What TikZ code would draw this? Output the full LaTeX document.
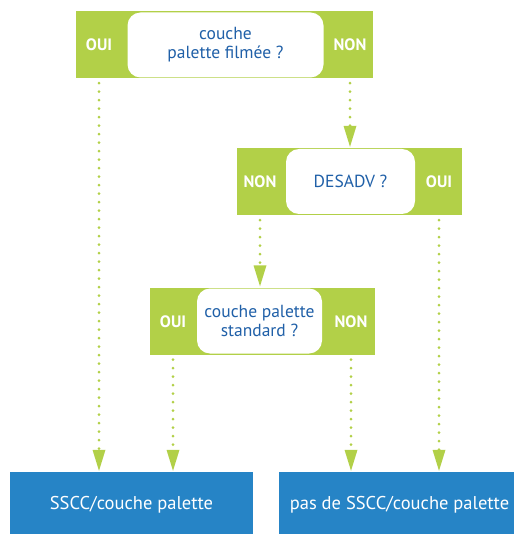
\documentclass[tikz,border=0pt]{standalone}
\usepackage{fontspec}
\setmainfont{PT Sans}
\usetikzlibrary{arrows.meta}
\definecolor{vert}{RGB}{178,208,72}
\definecolor{bleutexte}{RGB}{32,96,168}
\definecolor{bleubox}{RGB}{38,132,198}
\tikzset{
	cadre/.style={fill=vert, minimum height=67pt, inner sep=0pt},
	question/.style={fill=white, rounded corners=13pt, minimum height=65pt, inner sep=0pt,
			text=bleutexte, align=center, font=\fontsize{17.5}{19}\selectfont},
	reponse/.style={text=white, font=\fontsize{16.5}{18}\selectfont\bfseries},
	resultat/.style={fill=bleubox, text=white, minimum height=66pt, inner sep=0pt,
			font=\fontsize{18.5}{20}\selectfont},
	fleche/.style={draw=vert, line width=3pt, line cap=round, dash pattern=on 0pt off 8.5pt,
			-{Triangle[width=13pt, length=21pt, fill=vert, line width=0pt]}, shorten >=1pt}
}
\begin{document}
	\begin{tikzpicture}[x=1pt, y=-1pt]
		\useasboundingbox (0,0) rectangle (513,534);
		% premiere question
		\node[cadre, minimum width=297pt] (c1) at (224.5,44.5) {};
		\node[question, minimum width=196pt] (q1) at (225.5,45) {couche\\palette filmée ?};
		\node[reponse] (oui1) at (99,45) {OUI};
		\node[reponse] (non1) at (350,45) {NON};
		% deuxieme question
		\node[cadre, minimum width=225pt] (c2) at (349.5,181.5) {};
		\node[question, minimum width=129pt] (q2) at (350.5,181.5) {DESADV ?};
		\node[reponse] (non2) at (260,182) {NON};
		\node[reponse] (oui2) at (439,182) {OUI};
		% troisieme question
		\node[cadre, minimum width=225pt] (c3) at (262.5,321) {};
		\node[question, minimum width=125pt] (q3) at (259.5,321) {couche palette\\standard ?};
		\node[reponse] (oui3) at (173,322) {OUI};
		\node[reponse] (non3) at (351,322) {NON};
		% resultats
		\node[resultat, minimum width=243pt] (r1) at (131.5,505) {SSCC/couche palette};
		\node[resultat, minimum width=241pt] (r2) at (399.5,505) {pas de SSCC/couche palette};
		% fleches
		\draw[fleche] ([yshift=-5pt]oui1 |- c1.south) -- (oui1 |- r1.north);
		\draw[fleche] ([yshift=-5pt]non1 |- c1.south) -- (non1 |- c2.north);
		\draw[fleche] ([yshift=-5pt]non2 |- c2.south) -- (non2 |- c3.north);
		\draw[fleche] ([yshift=-5pt]oui2 |- c2.south) -- (oui2 |- r2.north);
		\draw[fleche] ([yshift=-5pt]oui3 |- c3.south) -- (oui3 |- r1.north);
		\draw[fleche] ([yshift=-5pt]non3 |- c3.south) -- (non3 |- r2.north);
	\end{tikzpicture}
\end{document}
